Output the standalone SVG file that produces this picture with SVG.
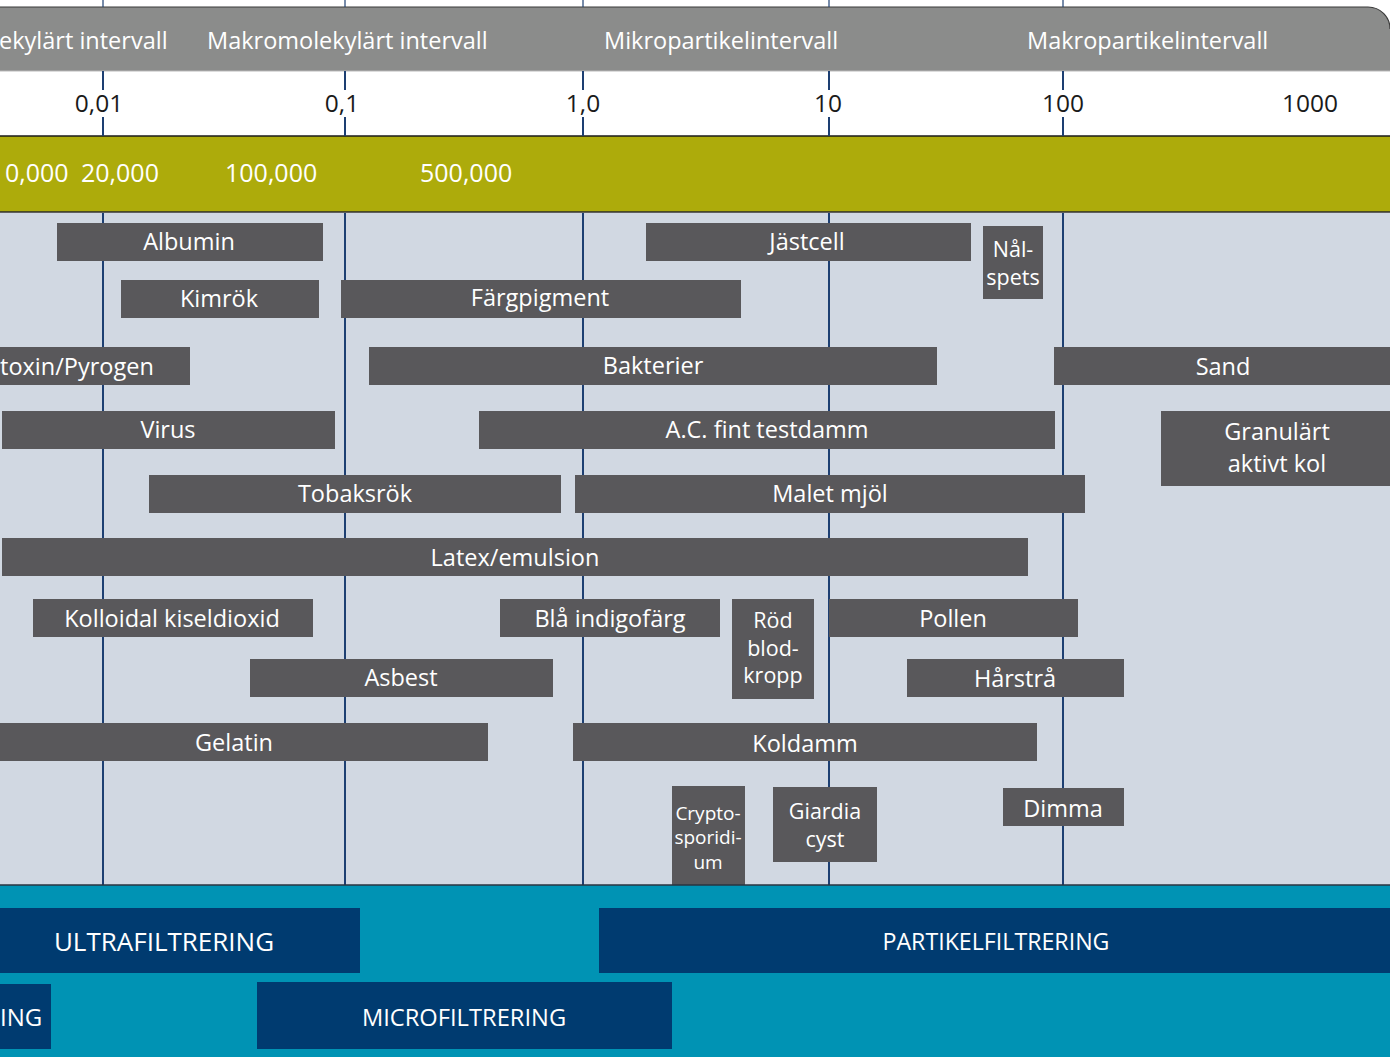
<svg xmlns="http://www.w3.org/2000/svg" width="1390" height="1057" viewBox="0 0 1390 1057">
<style>
text{font-family:"Open Sans","Noto Sans","Liberation Sans",sans-serif;}
.hd{fill:#ffffff;font-size:23.5px;}
.sc{fill:#1a1a1a;font-size:24.5px;text-anchor:middle;}
.mw{fill:#ffffff;font-size:25px;}
.tx{fill:#ffffff;font-size:23.5px;}
.bar{fill:#59585b;}
.lb{fill:#ffffff;font-size:23.5px;text-anchor:middle;}
.lbs{fill:#ffffff;font-size:21.5px;text-anchor:middle;}
.lbx{fill:#ffffff;font-size:19px;text-anchor:middle;}
.fb{fill:#003b70;}
.ft{fill:#ffffff;font-size:26px;text-anchor:middle;}
.gl{stroke:#1d3f72;stroke-width:2;fill:none;}
</style>
<rect x="0" y="0" width="1390" height="1057" fill="#ffffff"/>
<g id="header">
<path d="M0 7 H1368 A22 22 0 0 1 1390 29 V71 H0 Z" fill="#8b8c8b"/>
<path d="M0 7 H1368 A22 22 0 0 1 1390 29" fill="none" stroke="#3a3a3a" stroke-width="1.2"/>
<line x1="0" y1="71" x2="1390" y2="71" stroke="#b9b9b9" stroke-width="1"/>
<text class="hd" x="-1" y="49">ekylärt intervall</text>
<text class="hd" x="207" y="49">Makromolekylärt intervall</text>
<text class="hd" x="604" y="49">Mikropartikelintervall</text>
<text class="hd" x="1027" y="49">Makropartikelintervall</text>
</g>
<g id="scale">
<text class="sc" x="99" y="112">0,01</text>
<text class="sc" x="342" y="112">0,1</text>
<text class="sc" x="583" y="112">1,0</text>
<text class="sc" x="828" y="112">10</text>
<text class="sc" x="1063" y="112">100</text>
<text class="sc" x="1310" y="112">1000</text>
</g>
<g id="molweight">
<rect x="0" y="136" width="1390" height="76" fill="#adab0b"/>
<line x1="0" y1="136" x2="1390" y2="136" stroke="#1a1a1a" stroke-width="1.5"/>
<line x1="0" y1="212" x2="1390" y2="212" stroke="#2a2a2a" stroke-width="1.5"/>
<text class="mw" x="5" y="182">0,000</text>
<text class="mw" x="81" y="182">20,000</text>
<text class="mw" x="225" y="182">100,000</text>
<text class="mw" x="420" y="182">500,000</text>
</g>
<rect id="field" x="0" y="213" width="1390" height="672" fill="#d1d8e2"/>
<g id="gridlines">
<path class="gl" d="M103 0 V7 M345 0 V7 M583 0 V7 M829 0 V7 M1063 0 V7" stroke-opacity="0.6"/>
<path class="gl" d="M103 71 V90 M103 117 V136 M345 71 V90 M345 117 V136 M583 71 V90 M583 117 V136 M829 71 V90 M829 117 V136 M1063 71 V90 M1063 117 V136"/>
<path class="gl" d="M103 213 V885 M345 213 V885 M583 213 V885 M829 213 V885 M1063 213 V885"/>
</g>
<g id="albumin"><rect class="bar" x="57" y="223" width="266" height="38"/><text class="lb" x="189" y="250">Albumin</text></g>
<g id="jastcell"><rect class="bar" x="646" y="223" width="325" height="38"/><text class="lb" x="807" y="250">Jästcell</text></g>
<g id="nalspets"><rect class="bar" x="983" y="226" width="60" height="73"/><text class="lbs" x="1013" y="257">Nål-</text><text class="lbs" x="1013" y="285">spets</text></g>
<g id="kimrok"><rect class="bar" x="121" y="280" width="198" height="38"/><text class="lb" x="219" y="307">Kimrök</text></g>
<g id="fargpigment"><rect class="bar" x="341" y="280" width="400" height="38"/><text class="lb" x="540" y="306">Färgpigment</text></g>
<g id="endotoxin"><rect class="bar" x="0" y="347" width="190" height="38"/><text class="tx" x="0" y="375">toxin/Pyrogen</text></g>
<g id="bakterier"><rect class="bar" x="369" y="347" width="568" height="38"/><text class="lb" x="653" y="374">Bakterier</text></g>
<g id="sand"><rect class="bar" x="1054" y="347" width="336" height="38"/><text class="lb" x="1223" y="375">Sand</text></g>
<g id="virus"><rect class="bar" x="2" y="411" width="333" height="38"/><text class="lb" x="168" y="438">Virus</text></g>
<g id="actestdamm"><rect class="bar" x="479" y="411" width="576" height="38"/><text class="lb" x="767" y="438">A.C. fint testdamm</text></g>
<g id="granulart"><rect class="bar" x="1161" y="411" width="229" height="75"/><text class="lb" x="1277" y="440">Granulärt</text><text class="lb" x="1277" y="472">aktivt kol</text></g>
<g id="tobaksrok"><rect class="bar" x="149" y="475" width="412" height="38"/><text class="lb" x="355" y="502">Tobaksrök</text></g>
<g id="maletmjol"><rect class="bar" x="575" y="475" width="510" height="38"/><text class="lb" x="830" y="502">Malet mjöl</text></g>
<g id="latex"><rect class="bar" x="2" y="538" width="1026" height="38"/><text class="lb" x="515" y="566">Latex/emulsion</text></g>
<g id="kolloidal"><rect class="bar" x="33" y="599" width="280" height="38"/><text class="lb" x="172" y="627">Kolloidal kiseldioxid</text></g>
<g id="blaindigo"><rect class="bar" x="500" y="599" width="220" height="38"/><text class="lb" x="610" y="627">Blå indigofärg</text></g>
<g id="rodblodkropp"><rect class="bar" x="732" y="599" width="82" height="100"/><text class="lbs" x="773" y="628">Röd</text><text class="lbs" x="773" y="656">blod-</text><text class="lbs" x="773" y="683">kropp</text></g>
<g id="pollen"><rect class="bar" x="829" y="599" width="249" height="38"/><text class="lb" x="953" y="627">Pollen</text></g>
<g id="asbest"><rect class="bar" x="250" y="659" width="303" height="38"/><text class="lb" x="401" y="686">Asbest</text></g>
<g id="harstra"><rect class="bar" x="907" y="659" width="217" height="38"/><text class="lb" x="1015" y="687">Hårstrå</text></g>
<g id="gelatin"><rect class="bar" x="0" y="723" width="488" height="38"/><text class="lb" x="234" y="751">Gelatin</text></g>
<g id="koldamm"><rect class="bar" x="573" y="723" width="464" height="38"/><text class="lb" x="805" y="752">Koldamm</text></g>
<g id="cryptosporidium"><rect class="bar" x="672" y="786" width="73" height="100"/><text class="lbx" x="708" y="820">Crypto-</text><text class="lbx" x="708" y="844">sporidi-</text><text class="lbx" x="708" y="869">um</text></g>
<g id="giardia"><rect class="bar" x="773" y="787" width="104" height="75"/><text class="lbs" x="825" y="819">Giardia</text><text class="lbs" x="825" y="847">cyst</text></g>
<g id="dimma"><rect class="bar" x="1003" y="788" width="121" height="38"/><text class="lb" x="1063" y="817">Dimma</text></g>
<g id="filtration">
<rect x="0" y="885" width="1390" height="172" fill="#0093b4"/>
<line x1="0" y1="885" x2="1390" y2="885" stroke="#2a3440" stroke-width="1.5"/>
</g>
<g id="ultrafiltrering"><rect class="fb" x="0" y="908" width="360" height="65"/><text class="ft" x="164" y="951">ULTRAFILTRERING</text></g>
<g id="partikelfiltrering"><rect class="fb" x="599" y="908" width="791" height="65"/><text class="ft" x="996" y="950" style="font-size:23.2px">PARTIKELFILTRERING</text></g>
<g id="nanofiltrering"><rect class="fb" x="0" y="984" width="51" height="65"/><text class="ft" x="0" y="1026" style="text-anchor:start;font-size:24px">ING</text></g>
<g id="microfiltrering"><rect class="fb" x="257" y="982" width="415" height="67"/><text class="ft" x="464" y="1026" style="font-size:23.7px">MICROFILTRERING</text></g>
</svg>
